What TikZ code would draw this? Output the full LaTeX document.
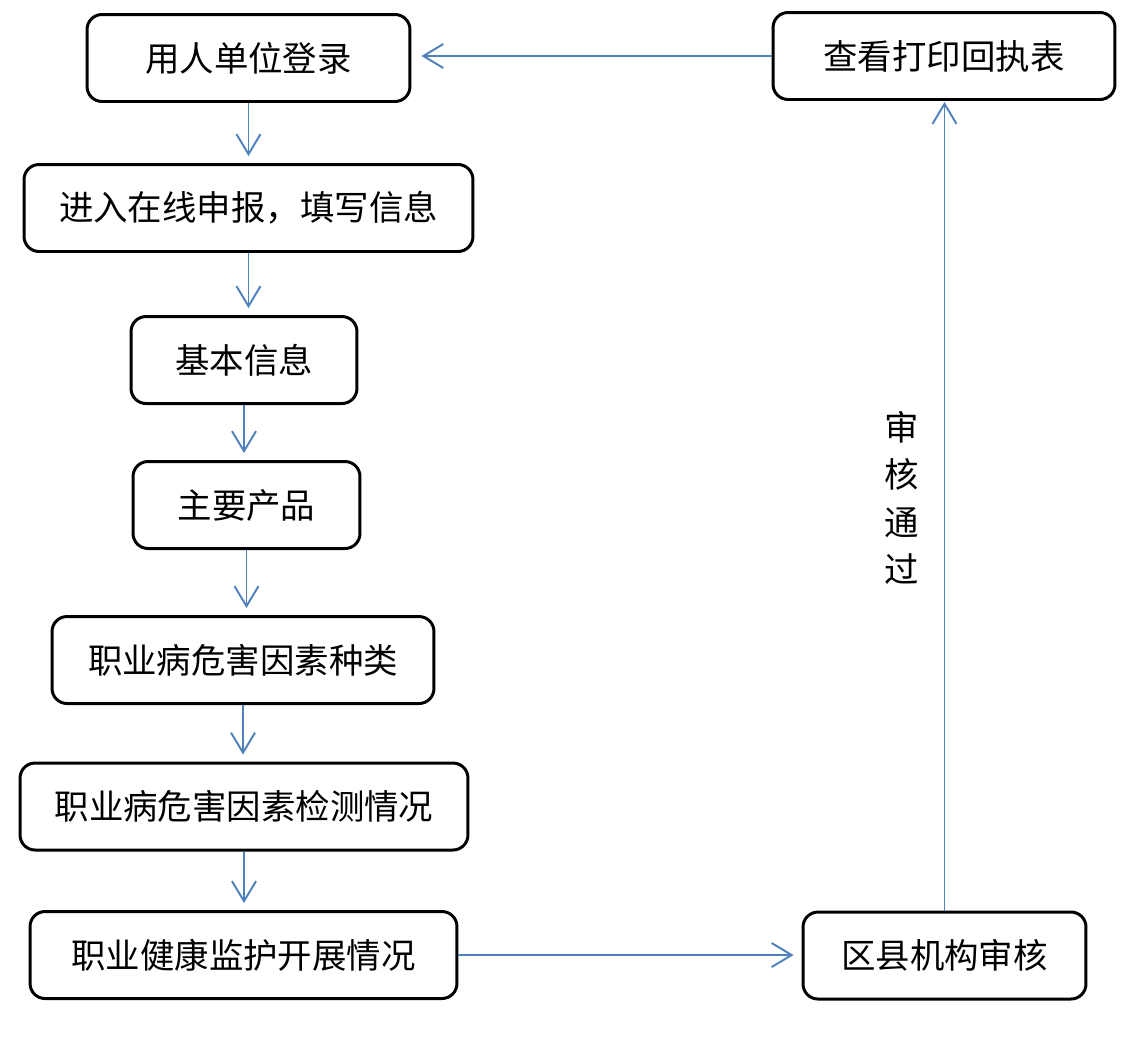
\documentclass[tikz,border=0pt]{standalone}
\usepackage{fontspec}
\setmainfont{Noto Sans CJK SC}
\usetikzlibrary{arrows.meta}

\begin{document}
\begin{tikzpicture}[x=0.02cm,y=-0.02cm,
  box/.style={draw=black,line width=1.7pt,rounded corners=0.3cm,minimum height=1.74cm,inner sep=0pt,font=\fontsize{19.6}{23}\selectfont},
  flow/.style={draw={rgb,255:red,79;green,129;blue,189},line width=1.1pt,-{Straight Barb[length=0.4cm,width=0.48cm]}}]
\fill[white] (0,0) rectangle (1148,1036);
\node [box,minimum width=6.46cm] (login) at (248.5,58) {用人单位登录};
\node [box,minimum width=8.98cm] (online) at (248.5,208) {进入在线申报，填写信息};
\node [box,minimum width=4.52cm] (basic) at (244,360) {基本信息};
\node [box,minimum width=4.54cm] (product) at (246.5,505) {主要产品};
\node [box,minimum width=7.64cm] (hazard) at (243,660) {职业病危害因素种类};
\node [box,minimum width=8.96cm] (detect) at (244,806.5) {职业病危害因素检测情况};
\node [box,minimum width=8.54cm] (health) at (243.5,955) {职业健康监护开展情况};
\node [box,minimum width=5.66cm] (review) at (944.5,955.5) {区县机构审核};
\node [box,minimum width=6.84cm] (receipt) at (944,56) {查看打印回执表};
\node [align=center,font=\fontsize{19.6}{27}\selectfont] (pass) at (902,498) {审\\核\\通\\过};

\draw [flow,shorten >=0.14cm] (login.south) -- (login.south |- online.north);
\draw [flow,shorten >=0.14cm] (online.south) -- (online.south |- basic.north);
\draw [flow,shorten >=0.14cm] (basic.south) -- (basic.south |- product.north);
\draw [flow,shorten >=0.14cm] (product.south) -- (product.south |- hazard.north);
\draw [flow,shorten >=0.14cm] (hazard.south) -- (hazard.south |- detect.north);
\draw [flow,shorten >=0.14cm] (detect.south) -- (detect.south |- health.north);
\draw [flow,shorten >=0.16cm] (health.east) -- (health.east -| review.west);
\draw [flow,shorten >=0.02cm] (review.north) -- (review.north |- receipt.south);
\draw [flow,shorten >=0.2cm] (receipt.west) -- (receipt.west -| login.east);
\end{tikzpicture}
\end{document}
